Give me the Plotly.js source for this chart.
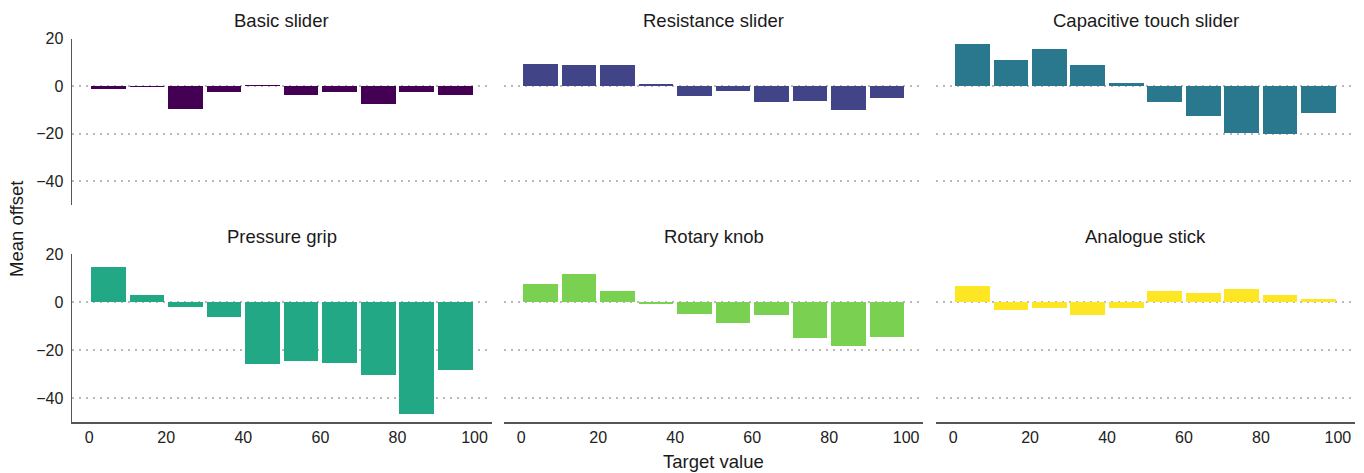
<!DOCTYPE html>
<html>
<head>
<meta charset="utf-8">
<script src="https://cdn.plot.ly/plotly-3.0.1.min.js"></script>
<style>html,body{margin:0;padding:0;background:#fff;}#chart{width:1364px;height:473px;}</style>
</head>
<body>
<div id="chart"></div>
<script>
// ---- data ----
const panelNames = ["Basic slider", "Resistance slider", "Capacitive touch slider",
                    "Pressure grip", "Rotary knob", "Analogue stick"];
const panelColors = ["#440154", "#414487", "#2A788E", "#22A884", "#7AD151", "#FDE725"];
const targetBins = [5, 15, 25, 35, 45, 55, 65, 75, 85, 95];
const basicSlider      = [-1.1, -0.4, -9.6, -2.4, 0.6, -3.7, -2.4, -7.5, -2.4, -3.7];
const resistanceSlider = [9.4, 9.0, 9.0, 1.0, -4.1, -2.0, -6.6, -6.2, -10.0, -4.9];
const capacitiveSlider = [17.5, 11.1, 15.4, 9.0, 1.4, -6.6, -12.5, -19.7, -20.1, -11.3];
const pressureGrip     = [14.6, 2.9, -2.1, -6.3, -25.8, -24.6, -25.4, -30.4, -46.7, -28.3];
const rotaryKnob       = [7.5, 11.7, 4.6, -0.8, -5.0, -8.8, -5.4, -15.0, -18.3, -14.6];
const analogueStick    = [6.7, -3.3, -2.5, -5.4, -2.5, 4.6, 3.8, 5.4, 2.9, 1.3];
const xTickVals = [0, 20, 40, 60, 80, 100];
const yTickVals = [-40, -20, 0, 20];
const yTickText = ["\u221240", "\u221220", "0", "20"];

const seriesValues = [basicSlider, resistanceSlider, capacitiveSlider,
                      pressureGrip, rotaryKnob, analogueStick];

// ---- layout geometry (pixels -> paper) ----
const W = 1364, H = 473;
const cols = [[72, 491.7], [504, 923.3], [936, 1355]];
const rows = [[38.5, 205.3], [254.3, 422]];
const font = "Liberation Sans, Arial, Helvetica, sans-serif";

const traces = [];
const layout = {
  width: W, height: H,
  margin: {l: 0, r: 0, t: 0, b: 0, pad: 0},
  paper_bgcolor: "#ffffff", plot_bgcolor: "rgba(0,0,0,0)",
  showlegend: false,
  bargap: 0,
  font: {family: font, size: 16, color: "#222"},
  annotations: []
};

for (let i = 0; i < 6; i++) {
  const r = Math.floor(i / 3), c = i % 3;
  const sfx = i === 0 ? "" : String(i + 1);
  traces.push({
    type: "bar",
    x: targetBins,
    y: seriesValues[i],
    width: 9,
    marker: {color: panelColors[i], line: {width: 0}},
    xaxis: "x" + sfx, yaxis: "y" + sfx,
    hoverinfo: "x+y"
  });
  const xd = [cols[c][0] / W, cols[c][1] / W];
  const yd = [1 - rows[r][1] / H, 1 - rows[r][0] / H];
  layout["xaxis" + sfx] = {
    domain: xd, anchor: "y" + sfx,
    range: [-4.45, 104.45],
    tickvals: xTickVals,
    showgrid: false, zeroline: false,
    showline: r === 1, linecolor: "#555", linewidth: 1.5,
    showticklabels: r === 1, ticks: "",
    tickfont: {family: font, size: 16, color: "#222"},
    fixedrange: true
  };
  layout["yaxis" + sfx] = {
    domain: yd, anchor: "x" + sfx,
    range: [-50, 20],
    tickvals: yTickVals, ticktext: yTickText,
    showgrid: true, gridcolor: "#b8b8b8", gridwidth: 2, griddash: "2px,5px",
    zeroline: false,
    showline: c === 0, linecolor: "#555", linewidth: 1.5,
    showticklabels: c === 0, ticks: "", ticklabelstandoff: 4,
    tickfont: {family: font, size: 16, color: "#222"},
    fixedrange: true
  };
  layout.annotations.push({
    text: panelNames[i], xref: "paper", yref: "paper",
    x: (xd[0] + xd[1]) / 2, y: 1 - (r === 0 ? 20 : 236.7) / H,
    xanchor: "center", yanchor: "middle", showarrow: false,
    font: {family: font, size: 18.5, color: "#1a1a1a"}
  });
}

layout.annotations.push({
  text: "Target value", xref: "paper", yref: "paper",
  x: (cols[1][0] + cols[1][1]) / 2 / W, y: 1 - 461.5 / H,
  xanchor: "center", yanchor: "middle", showarrow: false,
  font: {family: font, size: 18.5, color: "#1a1a1a"}
});
layout.annotations.push({
  text: "Mean offset", xref: "paper", yref: "paper",
  x: 17 / W, y: 1 - 229 / H, textangle: -90,
  xanchor: "center", yanchor: "middle", showarrow: false,
  font: {family: font, size: 18.5, color: "#1a1a1a"}
});

Plotly.newPlot("chart", traces, layout, {displayModeBar: false, staticPlot: true});
</script>
</body>
</html>
